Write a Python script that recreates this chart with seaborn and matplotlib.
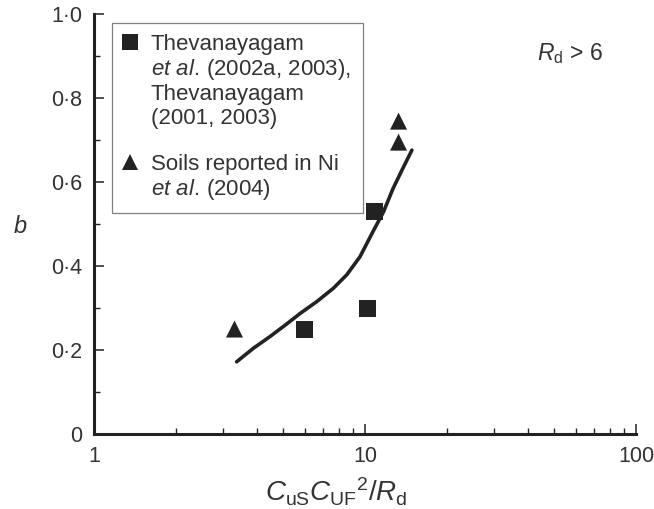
import matplotlib
matplotlib.use("Agg")
import matplotlib.pyplot as plt
from matplotlib.lines import Line2D
from matplotlib.ticker import FixedLocator, NullFormatter
import numpy as np
import pandas as pd
import seaborn as sns

# Thevanayagam et al. data (squares)
sq_x = [6.0, 10.2, 10.8]
sq_y = [0.25, 0.30, 0.53]

# Soils reported in Ni et al. (2004) (triangles)
tri_x = [3.3, 13.3, 13.3]
tri_y = [0.25, 0.695, 0.745]

# Trend curve
fit_x = [3.36, 3.87, 4.46, 5.14, 5.76, 6.63, 7.64, 8.56, 9.58, 10.7, 11.7, 12.7, 13.8, 14.9]
fit_y = [0.172, 0.204, 0.232, 0.262, 0.287, 0.315, 0.347, 0.379, 0.422, 0.482, 0.529, 0.585, 0.633, 0.676]

# Axis ticks
x_ticks = [1, 10, 100]
x_tick_labels = ["1", "10", "100"]
x_minor = [2, 3, 4, 5, 6, 7, 8, 9, 20, 30, 40, 50, 60, 70, 80, 90]
y_ticks = [0, 0.2, 0.4, 0.6, 0.8, 1.0]
y_tick_labels = ["0", "0·2", "0·4", "0·6", "0·8", "1·0"]
y_minor = [0.1, 0.3, 0.5, 0.7, 0.9]

legend_labels = [
    "Thevanayagam",
    r"$\mathit{et\ al.}\,$(2002a, 2003),",
    "Thevanayagam",
    "(2001, 2003)",
    " ",
    "Soils reported in Ni",
    r"$\mathit{et\ al.}\,$(2004)",
]

sns.set_theme(style="ticks")
plt.rcParams["font.family"] = ["Liberation Sans", "DejaVu Sans"]
plt.rcParams["mathtext.fontset"] = "custom"
plt.rcParams["mathtext.rm"] = "Liberation Sans"
plt.rcParams["mathtext.it"] = "Liberation Sans:italic"
plt.rcParams["mathtext.bf"] = "Liberation Sans:bold"

ink = "#222222"
txt = "#333333"

fig = plt.figure(figsize=(6.54, 5.09), dpi=100)
ax = fig.add_axes([0.1437, 0.1473, 0.8288, 0.8251])

df_sq = pd.DataFrame({"x": sq_x, "y": sq_y})
df_tri = pd.DataFrame({"x": tri_x, "y": tri_y})
df_fit = pd.DataFrame({"x": fit_x, "y": fit_y})

sns.lineplot(data=df_fit, x="x", y="y", ax=ax, color=ink, lw=2.6,
             sort=False, estimator=None, zorder=3)
sns.scatterplot(data=df_sq, x="x", y="y", ax=ax, marker="s", s=150,
                color=ink, edgecolor="none", zorder=4)
sns.scatterplot(data=df_tri, x="x", y="y", ax=ax, marker="^", s=150,
                color=ink, edgecolor="none", zorder=4)

ax.set_xscale("log")
ax.set_xlim(1, 100)
ax.set_ylim(0, 1.0)

ax.set_xticks(x_ticks, labels=x_tick_labels)
ax.xaxis.set_minor_locator(FixedLocator(x_minor))
ax.xaxis.set_minor_formatter(NullFormatter())
ax.set_yticks(y_ticks, labels=y_tick_labels)
ax.yaxis.set_minor_locator(FixedLocator(y_minor))

sns.despine(ax=ax)
for side in ("left", "bottom"):
    ax.spines[side].set_linewidth(2.2)
    ax.spines[side].set_color(ink)

ax.tick_params(which="both", direction="in", colors=ink, labelcolor=txt,
               labelsize=15.5, pad=8.5)
ax.tick_params(which="major", length=7, width=1.1)
ax.tick_params(which="minor", length=4.5, width=1.0)

ax.set_xlabel(r"$C_{\mathrm{uS}}C_{\mathrm{UF}}{}^{2}/R_{\mathrm{d}}$",
              fontsize=20, color=txt)
ax.xaxis.set_label_coords(0.4465, -0.1595)
ax.xaxis.label.set_va("baseline")

ax.set_ylabel("b", fontsize=17, fontstyle="italic", rotation=0, color=txt)
ax.yaxis.set_label_coords(-0.1365, 0.493)
ax.yaxis.label.set_va("center")
ax.yaxis.label.set_ha("center")

ax.text(0.817, 0.890, r"$R_{\mathrm{d}}$ > 6", transform=ax.transAxes,
        fontsize=16.5, color=txt, ha="left", va="baseline")

blank = Line2D([], [], ls="none", marker=None)
sq_handle = Line2D([], [], ls="none", marker="s", markersize=12.2,
                   color=ink, markeredgewidth=0)
tri_handle = Line2D([], [], ls="none", marker="^", markersize=12.2,
                    color=ink, markeredgewidth=0)
handles = [sq_handle, blank, blank, blank, blank, tri_handle, blank]

leg = ax.legend(handles, legend_labels, loc="upper left",
                bbox_to_anchor=(0.0332, 0.0, 0.463, 0.979), mode="expand",
                borderaxespad=0, fontsize=16, borderpad=0.5,
                handlelength=0.6, handletextpad=0.64, labelspacing=0.1,
                frameon=True, fancybox=False, framealpha=1, edgecolor="#808080",
                labelcolor=txt)
leg.get_frame().set_linewidth(0.9)
leg.set_zorder(2.5)

fig.savefig("out.png", dpi=100)
